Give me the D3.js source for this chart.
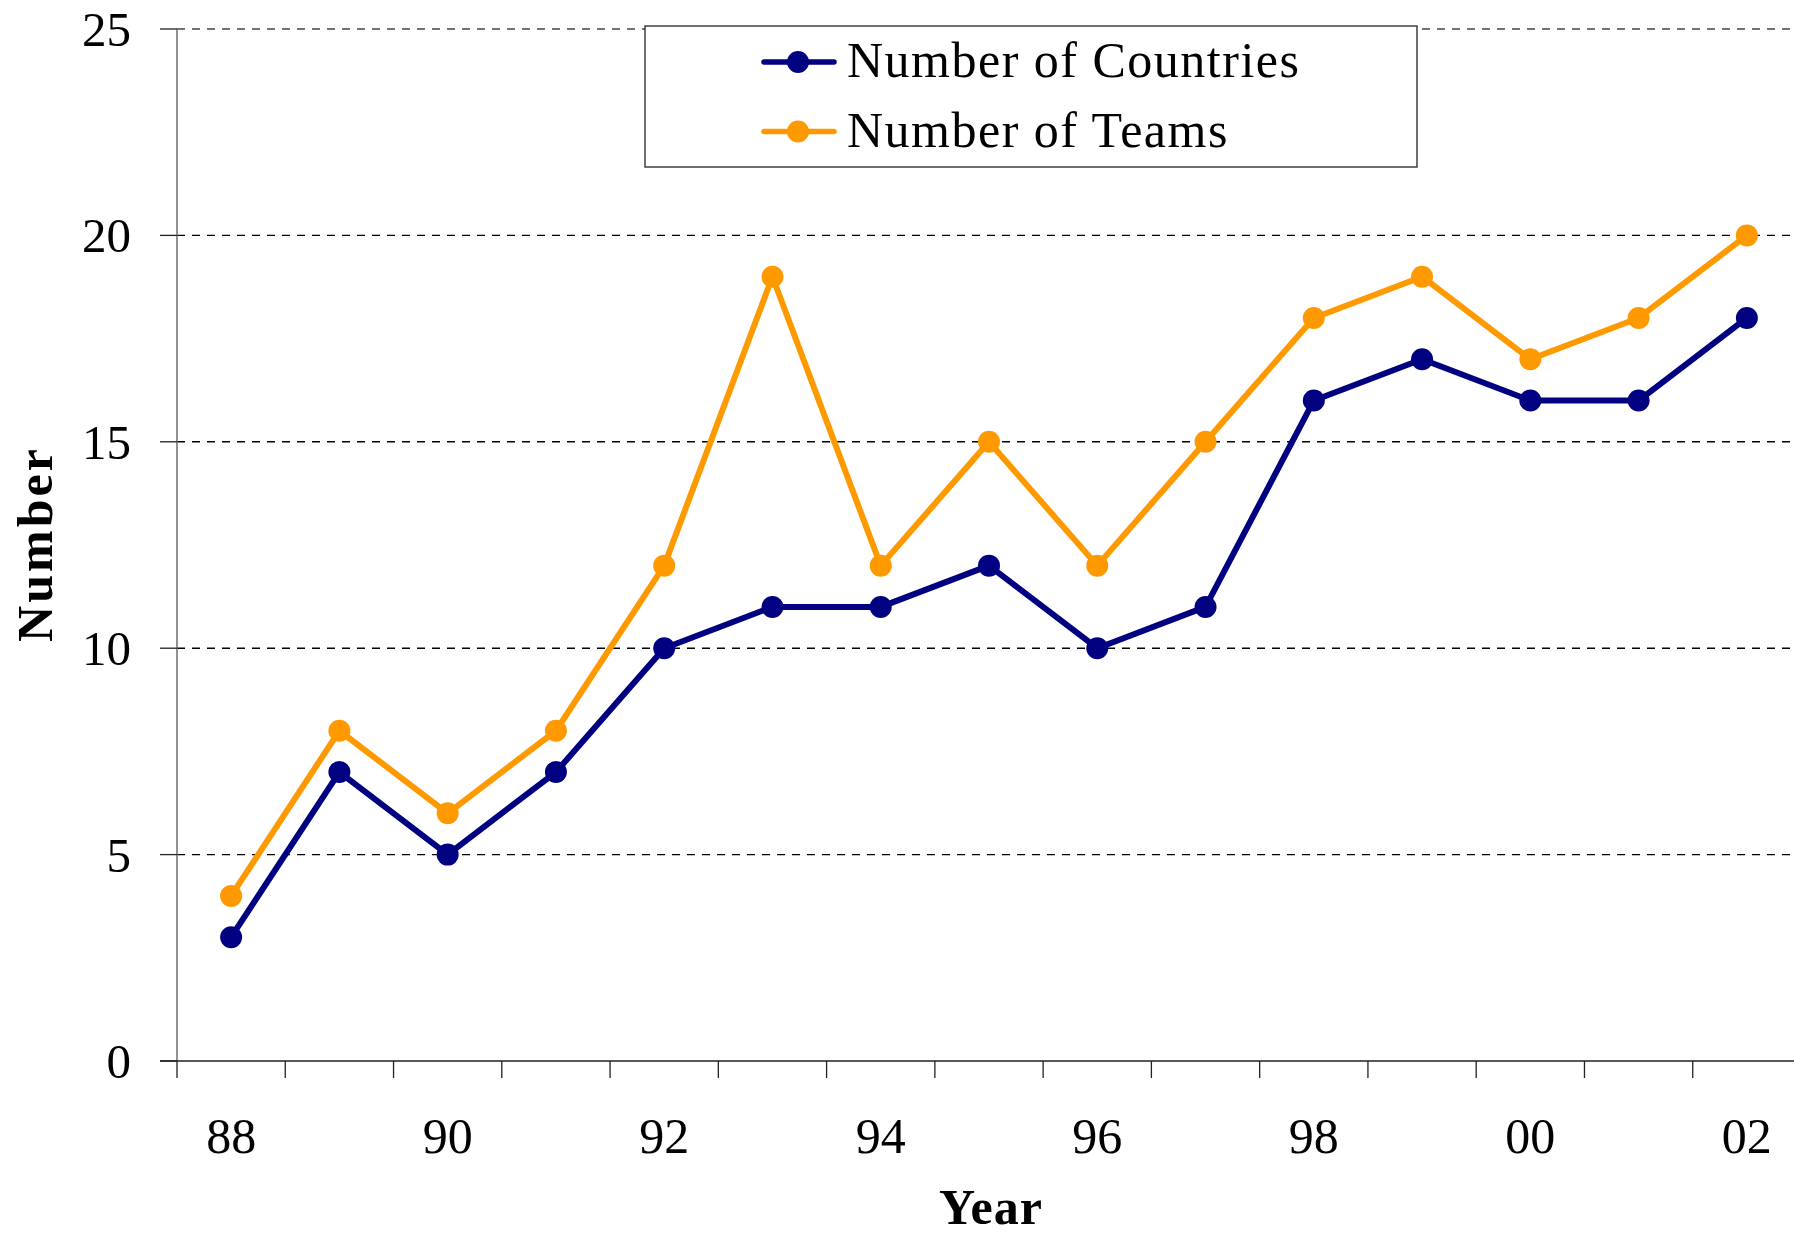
<!DOCTYPE html>
<html>
<head>
<meta charset="utf-8">
<script src="https://cdn.jsdelivr.net/npm/d3@7"></script>
<style>
  html, body { margin: 0; padding: 0; background: #fff; }
  svg { display: block; font-family: "Liberation Serif", "Times New Roman", serif; }
</style>
</head>
<body>
<div id="chart"></div>
<script>
// data
var years = ["88","89","90","91","92","93","94","95","96","97","98","99","00","01","02"];
var countries = [3, 7, 5, 7, 10, 11, 11, 12, 10, 11, 16, 17, 16, 16, 18];
var teams = [4, 8, 6, 8, 12, 19, 12, 15, 12, 15, 18, 19, 17, 18, 20];
var yTicks = [0, 5, 10, 15, 20, 25];
var xLabels = ["88","90","92","94","96","98","00","02"];
var seriesNames = ["Number of Countries", "Number of Teams"];
var seriesColors = ["#000080", "#FF9900"];

var width = 1794, height = 1237;

var svg = d3.select("#chart").append("svg")
  .attr("width", width)
  .attr("height", height);

var x = d3.scaleBand()
  .domain(years)
  .range([177, 1801])
  .padding(0);

var y = d3.scaleLinear()
  .domain([0, 25])
  .range([1061, 29]);

var cx = function (d, i) { return x(years[i]) + x.bandwidth() / 2; };

// grid lines
svg.append("g").selectAll("line")
  .data(yTicks.filter(function (d) { return d > 0; }))
  .enter()
  .append("line")
  .attr("x1", 177).attr("x2", width)
  .attr("y1", function (d) { return y(d); })
  .attr("y2", function (d) { return y(d); })
  .attr("stroke", function (d) { return d == 25 ? "#444" : "#000"; })
  .attr("stroke-width", 1.4)
  .attr("stroke-dasharray", "8,7");

// y axis
svg.append("line")
  .attr("x1", 177).attr("x2", 177)
  .attr("y1", y(25)).attr("y2", y(0))
  .attr("stroke", "#777").attr("stroke-width", 1.6);

svg.append("g").selectAll("line")
  .data(yTicks)
  .enter()
  .append("line")
  .attr("x1", 160).attr("x2", 177)
  .attr("y1", function (d) { return y(d); })
  .attr("y2", function (d) { return y(d); })
  .attr("stroke", "#222").attr("stroke-width", 1.3);

svg.append("g").selectAll("text")
  .data(yTicks)
  .enter()
  .append("text")
  .attr("x", 131)
  .attr("y", function (d) { return y(d) + 17; })
  .attr("text-anchor", "end")
  .attr("font-size", 49)
  .text(function (d) { return d; });

// x axis
svg.append("line")
  .attr("x1", 160).attr("x2", width)
  .attr("y1", y(0)).attr("y2", y(0))
  .attr("stroke", "#222").attr("stroke-width", 1.6);

svg.append("g").selectAll("line")
  .data(years)
  .enter()
  .append("line")
  .attr("x1", function (d) { return x(d); })
  .attr("x2", function (d) { return x(d); })
  .attr("y1", y(0)).attr("y2", y(0) + 17)
  .attr("stroke", "#222").attr("stroke-width", 1.3);

svg.append("g").selectAll("text")
  .data(xLabels)
  .enter()
  .append("text")
  .attr("x", function (d) { return x(d) + x.bandwidth() / 2; })
  .attr("y", 1153)
  .attr("text-anchor", "middle")
  .attr("font-size", 50)
  .text(function (d) { return d; });

// axis titles
svg.append("text")
  .attr("transform", "translate(52,544) rotate(-90)")
  .attr("text-anchor", "middle")
  .attr("font-size", 50)
  .attr("font-weight", "bold")
  .attr("letter-spacing", 3)
  .text("Number");

svg.append("text")
  .attr("x", 991)
  .attr("y", 1224)
  .attr("text-anchor", "middle")
  .attr("font-size", 50)
  .attr("font-weight", "bold")
  .attr("letter-spacing", 1)
  .text("Year");

// series
var line = d3.line()
  .x(function (d, i) { return cx(d, i); })
  .y(function (d) { return y(d); });

[countries, teams].forEach(function (vals, k) {
  svg.append("path")
    .datum(vals)
    .attr("d", line)
    .attr("fill", "none")
    .attr("stroke", seriesColors[k])
    .attr("stroke-width", 6)
    .attr("stroke-linejoin", "round");

  svg.append("g").selectAll("circle")
    .data(vals)
    .enter()
    .append("circle")
    .attr("cx", function (d, i) { return cx(d, i); })
    .attr("cy", function (d) { return y(d); })
    .attr("r", 11)
    .attr("fill", seriesColors[k]);
});

// legend
var legend = svg.append("g");
legend.append("rect")
  .attr("x", 645).attr("y", 26)
  .attr("width", 772).attr("height", 141)
  .attr("fill", "#fff")
  .attr("stroke", "#333").attr("stroke-width", 1.4);

var rows = legend.selectAll("g.row")
  .data(seriesNames)
  .enter()
  .append("g")
  .attr("transform", function (d, i) { return "translate(0," + (62 + i * 69.5) + ")"; });

rows.append("line")
  .attr("x1", 764).attr("x2", 834)
  .attr("y1", 0).attr("y2", 0)
  .attr("stroke", function (d, i) { return seriesColors[i]; })
  .attr("stroke-width", 5.5)
  .attr("stroke-linecap", "round");

rows.append("circle")
  .attr("cx", 798).attr("cy", 0).attr("r", 11)
  .attr("fill", function (d, i) { return seriesColors[i]; });

rows.append("text")
  .attr("x", 847).attr("y", 15)
  .attr("font-size", 50)
  .attr("letter-spacing", 1.5)
  .text(function (d) { return d; });
</script>
</body>
</html>
